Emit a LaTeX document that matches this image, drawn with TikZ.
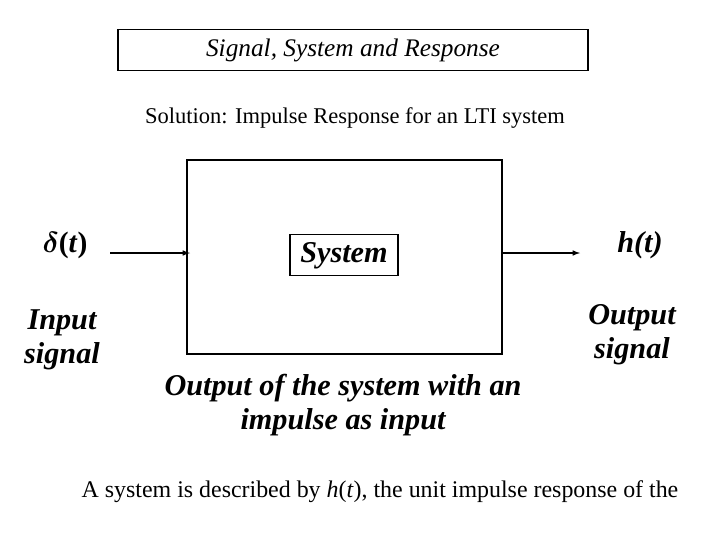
\documentclass[tikz,border=0pt]{standalone}
\usepackage{amsmath,amssymb,bm}
\usepackage{fontspec}
\setmainfont{Liberation Serif}
\begin{document}
\begin{tikzpicture}[x=0.025cm,y=-0.025cm,
  lbl/.style={font=\fontsize{21.5}{24}\selectfont\bfseries\itshape,align=center},
  txt/.style={font=\fontsize{16}{19}\selectfont}]
  \useasboundingbox (0,0) rectangle (720,540);
  \node[draw,thick,minimum width=470*0.025cm,minimum height=41*0.025cm,
        font=\fontsize{18}{21}\selectfont\itshape] (title) at (353,50) {Signal, System and Response};
  \node[txt] (sol) at (355,118) {Solution: Impulse Response for an LTI system};
  \draw[thick] (187,160) rectangle (502,354);
  \node[draw,thick,minimum width=108*0.025cm,minimum height=41*0.025cm,lbl,text depth=0.35em] (sys) at (344,255) {System};
  \node[font=\fontsize{21}{24}\selectfont\bfseries] (delta) at (65,245) {$\bm{\delta}$(\textit{t})};
  \node[lbl] (h) at (640,245) {\textit{h}(\textit{t})};
  \coordinate (inL) at (110,253);
  \coordinate (inR) at (190,253);
  \coordinate (outL) at (502,253);
  \coordinate (outR) at (580,253);
  \draw[thick,-latex] (inL) -- (inR);
  \draw[thick,-latex] (outL) -- (outR);
  \node[lbl] (insig) at (62,340) {Input\\signal};
  \node[lbl] (outsig) at (632,335) {Output\\signal};
  \node[lbl] (desc) at (343,405) {Output of the system with an\\impulse as input};
  \node[font=\fontsize{17}{20}\selectfont] (bot) at (380,492) {A system is described by \textit{h}(\textit{t}), the unit impulse response of the};
\end{tikzpicture}
\end{document}
